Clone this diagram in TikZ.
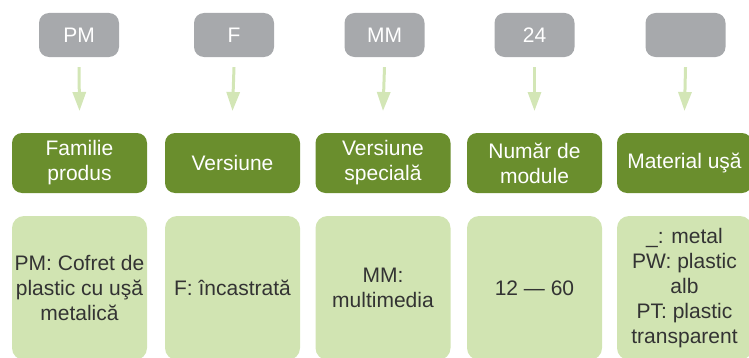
\documentclass[tikz,border=0pt]{standalone}
\usepackage{fontspec}
\setmainfont{Liberation Sans}
\usetikzlibrary{arrows.meta}
\definecolor{boxgray}{HTML}{A7A9AC}
\definecolor{darkgreen}{HTML}{6A8E2D}
\definecolor{lightgreen}{HTML}{D1E4B2}
\definecolor{arrowgreen}{HTML}{D3E6B6}
\definecolor{txtdark}{HTML}{333333}
\tikzset{
  codebox/.style={fill=boxgray, rounded corners=10pt, minimum width=80pt, minimum height=44pt, inner sep=0pt, text=white, font=\fontsize{21}{25}\selectfont},
  headbox/.style={fill=darkgreen, rounded corners=10pt, minimum width=135pt, minimum height=60pt, inner sep=0pt, text=white, align=center, font=\fontsize{21}{25}\selectfont},
  descbox/.style={fill=lightgreen, rounded corners=12pt, minimum width=135pt, minimum height=144pt, inner sep=0pt, text=txtdark, align=center, font=\fontsize{21}{25}\selectfont},
  arr/.style={draw=arrowgreen, line width=3pt, -{Triangle[width=13pt,length=19pt]}}
}
\begin{document}
\begin{tikzpicture}[x=1pt,y=1pt]
\useasboundingbox (0,0) rectangle (749,357);
\clip (0,0) rectangle (749,357);
% code boxes
\node[codebox] (g1) at (79,322) {PM};
\node[codebox] (g2) at (234,322) {F};
\node[codebox] (g3) at (384.5,322) {MM};
\node[codebox] (g4) at (534.5,322) {24};
\node[codebox] (g5) at (685.5,322) {};
% heading boxes
\node[headbox] (h1) at (79.5,194) {Familie\\produs};
\node[headbox] (h2) at (232.5,194) {Versiune};
\node[headbox] (h3) at (383,194) {Versiune\\special\u a};
\node[headbox] (h4) at (534.5,194) {Num\u ar de\\module};
\node[headbox] (h5) at (684.5,194) {Material u\c{s}\u a};
% description boxes
\node[descbox] (d1) at (79.5,69) {PM: Cofret de\\plastic cu u\c{s}\u a\\metalic\u a};
\node[descbox] (d2) at (232.5,69) {F: \^{\i}ncastrat\u a};
\node[descbox] (d3) at (383,69) {MM:\\multimedia};
\node[descbox] (d4) at (534.5,69) {12 --- 60};
\node[descbox] (d5) at (684.5,69) {\_: metal\\PW: plastic\\alb\\PT: plastic\\transparent};
% arrows
\foreach \i in {1,...,5}{
  \draw[arr] ([yshift=-10pt]g\i.south) -- ([yshift=11pt]h\i.north |- 0,235);
}
\end{tikzpicture}
\end{document}
